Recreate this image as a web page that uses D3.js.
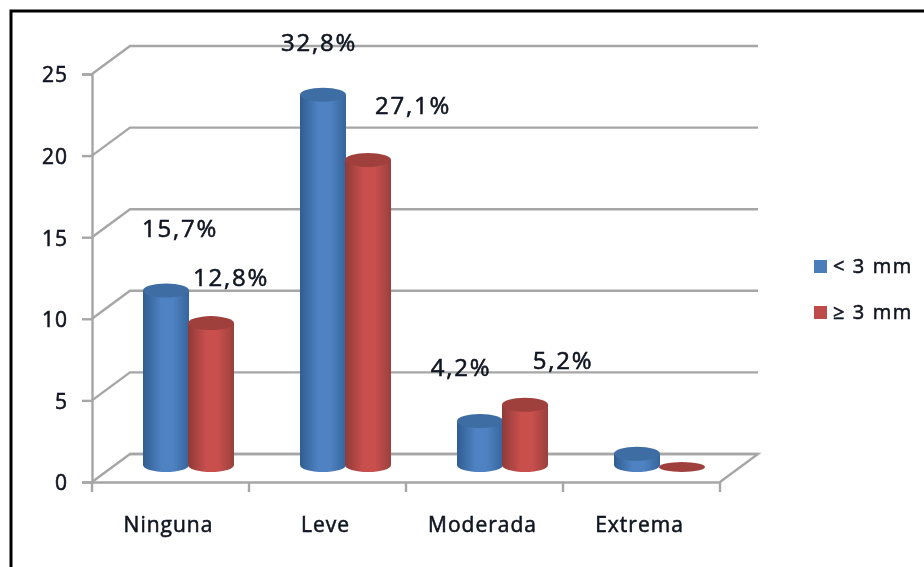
<!DOCTYPE html>
<html><head><meta charset="utf-8">
<script src="https://cdn.jsdelivr.net/npm/d3@7/dist/d3.min.js"></script>
<style>html,body{margin:0;background:#fff;overflow:hidden}svg{display:block}
text{font-family:"Open Sans",sans-serif;fill:#0c1420;stroke:#0c1420;stroke-width:.55px;letter-spacing:1px}</style></head><body>
<svg id="c" width="924" height="567"></svg>
<script>
const categories = ["Ninguna","Leve","Moderada","Extrema"];
const seriesNames = ["< 3 mm","≥ 3 mm"];
const below3 = [11,23,3,1];
const above3 = [9,19,4,0];
const below3Labels = ["15,7%","32,8%","4,2%",""];
const above3Labels = ["12,8%","27,1%","5,2%",""];
const yTicks = [0,5,10,15,20,25];

const svg = d3.select("#c");
const defs = svg.append("defs");
defs.append("filter").attr("id","soft").attr("x","-5%").attr("y","-5%").attr("width","110%").attr("height","110%")
  .append("feGaussianBlur").attr("stdDeviation",0.65);
function grad(id,a,b,c){
  const g = defs.append("linearGradient").attr("id",id);
  g.append("stop").attr("offset","0%").attr("stop-color",a);
  g.append("stop").attr("offset","40%").attr("stop-color",b);
  g.append("stop").attr("offset","65%").attr("stop-color",b);
  g.append("stop").attr("offset","100%").attr("stop-color",c);
}
grad("gb","#2f5d91","#4f82c2","#35659c");
grad("gr","#8e3a38","#c9504e","#9a403d");

const depthX = 38, depthY = -28;
const x = d3.scaleBand().domain(categories).range([92,720]);
const y = d3.scaleLinear().domain([0,25]).range([482,74]);
const floorY = 465, topBase = 470, zeroY = 467, ry = 7, rx = 23;
const h = d3.scaleLinear().domain([0,25]).range([0,y(0)-y(25)]);

svg.append("rect").attr("x",11).attr("y",11).attr("width",930).attr("height",570)
  .attr("fill","#fff").attr("stroke","#000").attr("stroke-width",3);
const root = svg.append("g").attr("filter","url(#soft)");

// walls
const walls = root.append("g").attr("fill","none").attr("stroke","#a6a6a6").attr("stroke-width",2.4);
walls.selectAll("path.g").data(yTicks).join("path").attr("class","g")
  .attr("d",d=>d3.line()([[92,y(d)],[92+depthX,y(d)+depthY],[720+depthX,y(d)+depthY]]));
walls.append("path").attr("d",d3.line()([[92+depthX,y(0)+depthY],[720+depthX,y(0)+depthY],[720,y(0)]]));

// axes
const yAxis = root.append("g").attr("transform","translate(92,0)")
  .call(d3.axisLeft(y).tickValues(yTicks).tickSize(10).tickPadding(14));
const xAxis = root.append("g").attr("transform",`translate(-2,${y(0)})`)
  .call(d3.axisBottom(x).tickSize(0).tickPadding(43));
const edges = [...categories.map(c=>x(c)), x.range()[1]];
xAxis.selectAll("line.edge").data(edges).join("line").attr("class","edge")
  .attr("x1",d=>d+2).attr("x2",d=>d+2).attr("y1",0).attr("y2",10).attr("stroke","#a6a6a6").attr("stroke-width",2.4);
xAxis.select(".domain").attr("transform","translate(2,0)");
root.selectAll(".domain").attr("stroke","#a6a6a6").attr("stroke-width",2.4);
yAxis.selectAll("line").attr("stroke","#a6a6a6").attr("stroke-width",2.4);
root.selectAll(".tick text").style("font-size","21px");
yAxis.selectAll(".tick text").attr("dy","0.38em");
xAxis.selectAll(".tick text").attr("dy","0.32em");

// cylinders
const series = [
  {vals:below3,fill:"url(#gb)",top:"#3d6da3",shift:-4.5,labels:below3Labels},
  {vals:above3,fill:"url(#gr)",top:"#a03f3d",shift:40.5,labels:above3Labels}
];
const bars = root.append("g");
series.forEach(s=>{
  categories.forEach((c,i)=>{
    const v = s.vals[i], cx = x(c)+x.bandwidth()/2+s.shift;
    if(v>0){
      const top = topBase-h(v);
      bars.append("path").attr("fill",s.fill)
        .attr("d",`M${cx-rx},${top}L${cx-rx},${floorY}A${rx},${ry} 0 0 0 ${cx+rx},${floorY}L${cx+rx},${top}Z`);
      bars.append("ellipse").attr("cx",cx).attr("cy",top).attr("rx",rx).attr("ry",ry).attr("fill",s.top);
    } else {
      bars.append("ellipse").attr("cx",cx).attr("cy",zeroY).attr("rx",rx).attr("ry",5).attr("fill",s.top);
    }
  });
});

// value labels, placed by hand in the source chart
const labelPos = [[[180,228],[319,42],[461,367]],[[231,277],[413,105],[563,360]]];
series.forEach((s,k)=>{
  s.labels.forEach((t,i)=>{
    if(!t) return;
    root.append("text").attr("x",labelPos[k][i][0]).attr("y",labelPos[k][i][1])
      .attr("text-anchor","middle").attr("dy","0.36em").style("font-size","24px").style("letter-spacing","1.8px").text(t);
  });
});

// legend
const leg = root.append("g");
const lc = ["#4a7ebb","#be4b48"];
const ly = d3.scalePoint().domain(seriesNames).range([266,312]);
seriesNames.forEach((n,i)=>{
  leg.append("rect").attr("x",814).attr("y",ly(n)-6).attr("width",13).attr("height",13).attr("fill",lc[i]);
  leg.append("text").attr("x",833).attr("y",ly(n)).attr("dy","0.34em").style("font-size","20px").style("letter-spacing","1.6px").text(n);
});
</script></body></html>
